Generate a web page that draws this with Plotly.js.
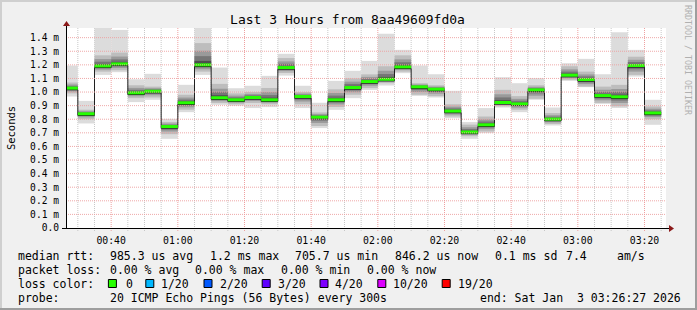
<!DOCTYPE html>
<html><head><meta charset="utf-8">
<script src="https://cdn.plot.ly/plotly-3.0.1.min.js"></script>
<style>html,body{margin:0;padding:0;background:#f0f0f0;}#chart{width:697px;height:310px;}</style>
</head><body><div id="chart"></div>
<script>
// ---- data ----
const stepEnds = ['2026-01-03 00:30:00','2026-01-03 00:35:00','2026-01-03 00:40:00','2026-01-03 00:45:00','2026-01-03 00:50:00','2026-01-03 00:55:00',
 '2026-01-03 01:00:00','2026-01-03 01:05:00','2026-01-03 01:10:00','2026-01-03 01:15:00','2026-01-03 01:20:00','2026-01-03 01:25:00',
 '2026-01-03 01:30:00','2026-01-03 01:35:00','2026-01-03 01:40:00','2026-01-03 01:45:00','2026-01-03 01:50:00','2026-01-03 01:55:00',
 '2026-01-03 02:00:00','2026-01-03 02:05:00','2026-01-03 02:10:00','2026-01-03 02:15:00','2026-01-03 02:20:00','2026-01-03 02:25:00',
 '2026-01-03 02:30:00','2026-01-03 02:35:00','2026-01-03 02:40:00','2026-01-03 02:45:00','2026-01-03 02:50:00','2026-01-03 02:55:00',
 '2026-01-03 03:00:00','2026-01-03 03:05:00','2026-01-03 03:10:00','2026-01-03 03:15:00','2026-01-03 03:20:00','2026-01-03 03:25:00'];
const medianMs = [1.029,0.840,1.192,1.207,0.994,1.006,0.746,0.921,1.200,0.958,0.943,0.960,0.943,1.180,0.967,0.815,0.943,1.033,
 1.077,1.094,1.185,1.038,1.021,0.860,0.706,0.759,0.923,0.913,1.016,0.801,1.124,1.092,0.974,0.965,1.195,0.846];
const minMs = [0.967,0.769,1.126,1.146,0.926,0.943,0.656,0.852,1.126,0.906,0.899,0.882,0.889,1.121,0.882,0.735,0.869,0.955,
 1.016,1.048,1.139,0.972,0.960,0.808,0.656,0.698,0.886,0.852,0.943,0.754,1.082,1.036,0.913,0.882,1.114,0.759];
const maxMs = [1.195,0.935,1.500,1.457,1.094,1.134,0.803,1.053,1.500,1.180,1.028,1.046,1.119,1.281,1.046,0.921,1.082,1.156,
 1.229,1.428,1.310,1.195,1.131,1.009,0.779,0.882,1.109,1.065,1.102,0.886,1.212,1.244,1.131,1.440,1.310,0.943];
const innerLoMs = [0.99,0.80,1.15,1.16,0.955,0.96,0.69,0.87,1.15,0.92,0.91,0.92,0.91,1.14,0.91,0.75,0.89,0.98,
 1.03,1.065,1.15,0.98,0.97,0.82,0.675,0.71,0.895,0.87,0.95,0.765,1.09,1.04,0.92,0.895,1.126,0.80];
const innerHiMs = [1.07,0.87,1.27,1.29,1.05,1.04,0.78,0.98,1.36,1.06,0.99,1.00,1.03,1.25,1.00,0.85,1.02,1.10,
 1.13,1.19,1.27,1.065,1.05,0.91,0.76,0.82,1.016,0.97,1.05,0.845,1.19,1.15,1.04,1.053,1.26,0.894];
const yTickVals = [0,0.1,0.2,0.3,0.4,0.5,0.6,0.7,0.8,0.9,1.0,1.1,1.2,1.3,1.4];
const yTickText = ['0.0','0.1 m','0.2 m','0.3 m','0.4 m','0.5 m','0.6 m','0.7 m','0.8 m','0.9 m','1.0 m','1.1 m','1.2 m','1.3 m','1.4 m'];
const lossLabels = ['0','1/20','2/20','3/20','4/20','10/20','19/20'];
const lossColors = ['#26ff00','#00b8ff','#0059ff','#5e00ff','#7e00ff','#dd00ff','#ff0000'];
const statsRtt = ['985.3 us avg','1.2 ms max','705.7 us min','846.2 us now','0.1 ms sd','7.4','am/s'];
const statsLoss = ['0.00 % avg','0.00 % max','0.00 % min','0.00 % now'];
const probeText = '20 ICMP Echo Pings (56 Bytes) every 300s';
const endText = 'end: Sat Jan  3 03:26:27 2026';

// ---- helpers ----
const W = 697, H = 310, ML = 66, MR = 31, MT = 28, MB = 82;
const PW = W - ML - MR, PH = H - MT - MB;
const px = x => (x - ML) / PW;
const py = y => (H - MB - y) / PH;
const STEP = 300000;
function shiftTime(s, ms) {
  const m = s.match(/(\d+)-(\d+)-(\d+) (\d+):(\d+):(\d+)/);
  const t = Date.UTC(+m[1], +m[2]-1, +m[3], +m[4], +m[5], +m[6]) + ms;
  return new Date(t).toISOString().slice(0,19).replace('T',' ');
}
const MONO = 'DejaVu Sans Mono';
const nb = s => s.replace(/ /g, '\u00a0');
const MAJOR = '#eea0a0', MINOR = '#c8c8c8';

// ---- smoke layers ----
const traces = [];
function band(lo, hi, color) {
  traces.push({type:'bar', x: stepEnds, base: lo, y: hi.map((h,i)=>h-lo[i]),
    width: STEP, offset: -STEP, marker:{color, line:{width:0}}, hoverinfo:'skip', showlegend:false});
}
band(minMs, maxMs, '#dcdcdc');
band(innerLoMs, innerHiMs, '#bdbdbd');
const lerp = (a,f) => a.map((v,i)=> v + (medianMs[i]-v)*f);
band(lerp(innerLoMs,0.35), lerp(innerHiMs,0.35), '#9a9a9a');
band(lerp(innerLoMs,0.6), lerp(innerHiMs,0.6), '#767676');
band(lerp(innerLoMs,0.82), lerp(innerHiMs,0.82), '#4d4d4d');

// median step line (black) slightly below the green loss band
const stepX = stepEnds.map(s => shiftTime(s, -STEP)).concat([stepEnds[stepEnds.length-1]]);
const stepY = medianMs.map(v => v - 0.012).concat([medianMs[medianMs.length-1] - 0.012]);
traces.push({type:'scatter', mode:'lines', x: stepX, y: stepY, line:{color:'#202020', width:1, shape:'hv'},
  hoverinfo:'skip', showlegend:false});
// green loss-colour segments
const gx = [], gy = [];
stepEnds.forEach((s,i) => { gx.push(shiftTime(s,-STEP), s, null); gy.push(medianMs[i], medianMs[i], null); });
traces.push({type:'scatter', mode:'lines', x: gx, y: gy, line:{color: lossColors[0], width:3}, hoverinfo:'skip', showlegend:false});

// ---- annotations ----
const ann = [];
const LEG = 11.5;
const txt = (x, y, t, opts={}) => ann.push(Object.assign({xref:'paper', yref:'paper', x: px(x), y: py(y), text: nb(t),
  showarrow:false, xanchor:'left', yanchor:'middle', font:{family:MONO, size:LEG, color:'#000'}}, opts));
const row1 = 255.5, row2 = 269.5, row3 = 283.5, row4 = 297.5;
txt(16.4, row1, 'median rtt:');
[107.6,207.6,293.3,393.3,493.3,564.4,614.7].forEach((x,i)=>txt(x,row1,statsRtt[i]));
txt(16.4, row2, 'packet loss:');
[107.6,193.3,279.1,365.3].forEach((x,i)=>txt(x,row2,statsLoss[i]));
txt(16.4, row3, 'loss color:');
const boxX = [108.4,145.8,204,262.2,320,377.8,442.2];
const boxTxtX = [123.6,159.1,217.8,275.6,333.3,391.1,455.6];
lossLabels.forEach((l,i)=>txt(boxTxtX[i], row3, l));
txt(16.4, row4, 'probe:');
txt(107.6, row4, probeText);
txt(478.2, row4, endText);
ann.push({xref:'paper', yref:'paper', x: px(688), y: py(60), text: nb('RRDTOOL / TOBI OETIKER'), textangle: 90,
  showarrow:false, xanchor:'center', yanchor:'middle', font:{family:MONO, size:8.3, color:'#b0b0b0'}});

// ---- shapes ----
const shapes = [];
// vertical grid sits under the data; horizontal grid is drawn over the smoke, like rrdtool
stepEnds.forEach(s => {
  const major = (+s.slice(14,16)) % 20 === 0;
  shapes.push({type:'line', xref:'x', yref:'paper', x0:s, x1:s, y0:py(231), y1:1,
    line:{color: major ? MAJOR : MINOR, width:1, dash:'1px,1px'}, layer:'below'});
});
yTickVals.slice(1).forEach(v => shapes.push({type:'line', xref:'paper', yref:'y', x0:0, x1:1, y0:v, y1:v,
  line:{color: MAJOR, width:1, dash:'1px,1px'}, layer:'above', opacity:0.9}));
const rect = (x0,y0,x1,y1,fill,line) => shapes.push({type:'rect', xref:'paper', yref:'paper', x0:px(x0), x1:px(x1), y0:py(y0), y1:py(y1),
  fillcolor: fill, line: line || {width:0}, layer:'above'});
rect(0,0,697,2,'#cfcfcf'); rect(0,0,2,310,'#cfcfcf');
rect(0,308,697,310,'#9e9e9e'); rect(695,0,697,310,'#9e9e9e');
boxX.forEach((x,i)=>rect(x, row3-4, x+8, row3+4, lossColors[i], {color:'#000', width:1}));
const line = (x0,y0,x1,y1) => shapes.push({type:'line', xref:'paper', yref:'paper', x0:px(x0), x1:px(x1), y0:py(y0), y1:py(y1),
  line:{color:'#000', width:1}, layer:'above'});
line(66.5, 228.5, 66.5, 24);
line(62, 228.5, 670, 228.5);
const path = pts => 'M' + pts.map(p => px(p[0]) + ',' + py(p[1])).join(' L') + ' Z';
shapes.push({type:'path', xref:'paper', yref:'paper', path: path([[66.5,21],[63,26],[70,26]]), fillcolor:'#8b1a1a', line:{width:0}, layer:'above'});
shapes.push({type:'path', xref:'paper', yref:'paper', path: path([[674,228.5],[669,225],[669,232]]), fillcolor:'#8b1a1a', line:{width:0}, layer:'above'});

const layout = {
  width: W, height: H, margin:{l:ML, r:MR, t:MT, b:MB, pad:0},
  paper_bgcolor:'#f0f0f0', plot_bgcolor:'#ffffff',
  barmode:'overlay', showlegend:false,
  title:{text:'Last 3 Hours from 8aa49609fd0a', xref:'container', yref:'container', x: 347.5/W, y: 1 - 19/H,
    xanchor:'center', yanchor:'middle', font:{family:MONO, size:13, color:'#000'}},
  xaxis:{type:'date', range:['2026-01-03 00:26:27','2026-01-03 03:26:27'], tick0:'2026-01-03 00:00:00', dtick:1200000,
    tickformat:'%H:%M', showgrid:false, zeroline:false,
    showline:false, ticks:'outside', ticklen:3, tickcolor:'rgba(0,0,0,0)',
    tickfont:{family:MONO, size:9.8, color:'#000'}, fixedrange:true},
  yaxis:{range:[0,1.471], tickvals: yTickVals, ticktext: yTickText, showgrid:false,
    zeroline:false, showline:false, ticks:'', ticklabelstandoff:6,
    tickfont:{family:MONO, size:9.6, color:'#000'},
    title:{text:'Seconds', font:{family:MONO, size:10.5, color:'#000'}, standoff:12}, fixedrange:true},
  annotations: ann, shapes: shapes
};
Plotly.newPlot('chart', traces, layout, {staticPlot:true, displayModeBar:false});
</script></body></html>
